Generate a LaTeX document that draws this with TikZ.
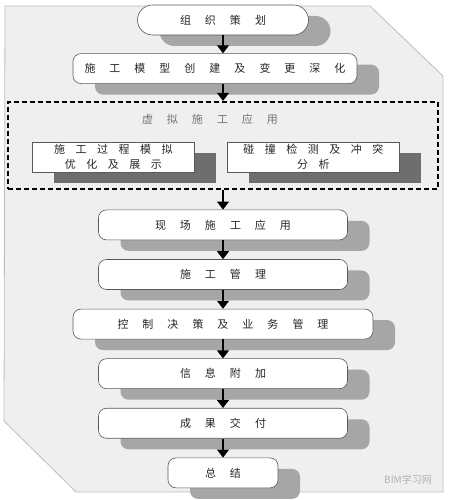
\documentclass[tikz,border=0pt]{standalone}
\usepackage{fontspec}
\newfontfamily\cjk{Noto Sans CJK SC}
\usetikzlibrary{positioning,shadows,arrows.meta}
\definecolor{panel}{HTML}{EFEFEF}
\definecolor{panelline}{HTML}{BDBDBD}
\definecolor{shade}{HTML}{A6A6A6}
\definecolor{darkshade}{HTML}{6E6E6E}

\begin{document}
\begin{tikzpicture}[x=1pt,y=1pt,node distance=19pt,
    every node/.style={font=\cjk\fontsize{11}{15}\selectfont,text=black!85},
    spaced/.style={execute at begin node={\spaceskip=#1\relax}},
    box/.style={draw=black!65,line width=0.6pt,fill=white,rectangle,rounded corners=8pt,
        minimum height=30pt,minimum width=249pt,inner sep=0pt,spaced=14pt,
        drop shadow={shadow xshift=22pt,shadow yshift=-11pt,fill=shade,opacity=1}},
    subbox/.style={draw=black!65,line width=0.6pt,fill=white,rectangle,align=center,
        minimum height=30pt,inner sep=0pt,spaced=10.5pt,anchor=north west,
        drop shadow={shadow xshift=22pt,shadow yshift=-11pt,fill=darkshade,opacity=1}},
    group/.style={draw=black,line width=1.7pt,dash pattern=on 5pt off 3pt,
        minimum width=430pt,minimum height=87pt,inner sep=0pt},
    flow/.style={line width=1.2pt,-{Triangle[width=12pt,length=8pt]}}]
    \useasboundingbox (0,0) rectangle (448,500);
    % panel behind the chart
    \draw[fill=panel,draw=panelline,line width=0.8pt]
        (5,494) -- (370,494) -- (443,424) -- (443,8) -- (76,8) -- (4,79) -- cycle;

    \node[box,rounded corners=15pt,minimum width=171pt] (plan) at (223,480) {组 织 策 划};
    \node[box,minimum width=284pt,xshift=-8pt] (model) [below=18pt of plan] {施 工 模 型 创 建 及 变 更 深 化};
    \node[group,xshift=8pt] (virt) [below=17pt of model] {};
    \node[inner sep=0pt,spaced=14pt,text=black!55,xshift=-13pt] (virt_title) [below=13pt of virt.north] {虚 拟 施 工 应 用};
    \node[subbox,minimum width=162pt] (sim) [below right=41pt and 25pt of virt.north west] {施 工 过 程 模 拟\\优 化 及 展 示};
    \node[subbox,minimum width=172pt] (clash) [below right=41pt and 220pt of virt.north west] {碰 撞 检 测 及 冲 突\\分 析};
    \node[box] (site) [below=20pt of virt] {现 场 施 工 应 用};
    \node[box] (manage) [below=of site] {施 工 管 理};
    \node[box,minimum width=300pt] (control) [below=of manage] {控 制 决 策 及 业 务 管 理};
    \node[box] (info) [below=of control] {信 息 附 加};
    \node[box] (result) [below=of info] {成 果 交 付};
    \node[box,minimum width=110pt] (summary) [below=of result] {总 结};

    \node[text=black!30,font=\cjk\fontsize{10}{12}\selectfont] (mark) at (408,20) {BIM学习网};

    \draw[flow] (plan) -- (plan |- model.north);
    \draw[flow] (plan |- model.south) -- (plan |- virt.north);
    \draw[flow] (virt) -- (site);
    \draw[flow] (site) -- (manage);
    \draw[flow] (manage) -- (control);
    \draw[flow] (control) -- (info);
    \draw[flow] (info) -- (result);
    \draw[flow] (result) -- (summary);
\end{tikzpicture}
\end{document}
